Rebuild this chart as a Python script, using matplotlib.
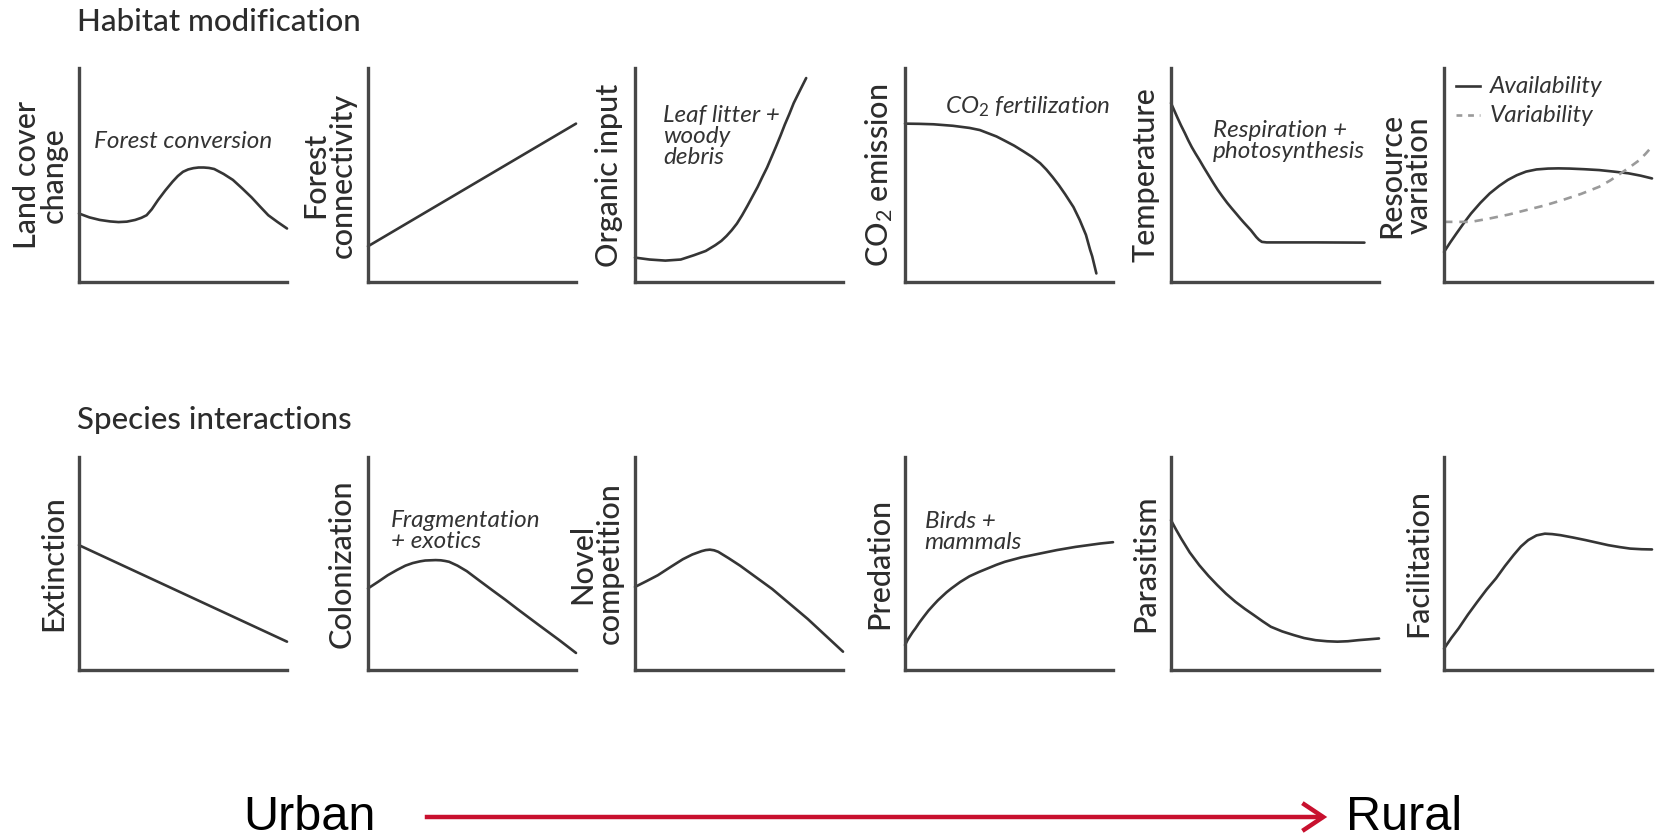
import matplotlib
matplotlib.use("Agg")
import matplotlib.pyplot as plt
from matplotlib.patches import FancyArrowPatch, ArrowStyle

plt.rcParams['font.family'] = ['Lato', 'DejaVu Sans']
plt.rcParams['mathtext.fontset'] = 'custom'
plt.rcParams['mathtext.rm'] = 'Lato'
plt.rcParams['mathtext.it'] = 'Lato:italic'
plt.rcParams['mathtext.bf'] = 'Lato:bold'

# ---------------- data (axes 0..10) ----------------
section_titles = ["Habitat modification", "Species interactions"]

row1_labels = ["Land cover\nchange", "Forest\nconnectivity", "Organic input",
               "CO$_2$ emission", "Temperature", "Resource\nvariation"]
row2_labels = ["Extinction", "Colonization", "Novel\ncompetition",
               "Predation", "Parasitism", "Facilitation"]

land_cover_x = [0, 0.5, 1.0, 1.5, 1.9, 2.3, 2.7, 3.0, 3.25, 3.5, 3.8, 4.15, 4.5, 4.75,
                5.0, 5.25, 5.5, 5.75, 6.0, 6.25, 6.5, 6.95, 7.4, 7.85, 8.3, 8.7, 9.1, 9.55, 10]
land_cover_y = [3.2, 3.02, 2.9, 2.83, 2.8, 2.82, 2.9, 3.0, 3.12, 3.4, 3.83, 4.28, 4.69, 4.95,
                5.15, 5.26, 5.32, 5.35, 5.35, 5.33, 5.28, 5.05, 4.77, 4.37, 3.95, 3.53, 3.12, 2.8, 2.5]

connectivity_x = [0, 10]
connectivity_y = [1.67, 7.4]

organic_x = [0, 0.7, 1.46, 2.2, 2.83, 3.4, 3.86, 4.15, 4.4, 4.65, 4.9, 5.15, 5.4, 5.65, 5.9,
             6.12, 6.35, 6.57, 6.78, 7.0, 7.2, 7.42, 7.63, 7.93, 8.23]
organic_y = [1.14, 1.05, 1.0, 1.05, 1.25, 1.45, 1.72, 1.92, 2.15, 2.42, 2.73, 3.12, 3.55, 4.0, 4.45,
             4.9, 5.35, 5.85, 6.33, 6.85, 7.35, 7.85, 8.36, 8.95, 9.53]

co2_x = [0, 0.7, 1.37, 2.3, 3.1, 3.6, 4.0, 4.4, 4.8, 5.25, 5.7, 6.1, 6.5, 6.8, 7.1, 7.4, 7.7,
         7.9, 8.1, 8.25, 8.4, 8.55, 8.7, 8.8, 8.9, 9.0, 9.1, 9.2]
co2_y = [7.4, 7.39, 7.37, 7.3, 7.2, 7.1, 6.95, 6.8, 6.6, 6.37, 6.1, 5.85, 5.55, 5.25, 4.9, 4.52, 4.1,
         3.8, 3.5, 3.2, 2.9, 2.55, 2.2, 1.85, 1.5, 1.2, 0.8, 0.4]

temperature_x = [0, 0.15, 0.3, 0.48, 0.67, 0.83, 1.0, 1.18, 1.37, 1.58, 1.8, 2.02, 2.25, 2.47,
                 2.7, 2.92, 3.13, 3.32, 3.5, 3.67, 3.84, 3.97, 4.1, 4.23, 4.37, 4.6, 5.5, 7.0, 9.3]
temperature_y = [8.36, 8.03, 7.7, 7.32, 6.95, 6.62, 6.3, 6.0, 5.7, 5.35, 5.0, 4.65, 4.3, 4.0,
                 3.7, 3.44, 3.2, 2.98, 2.78, 2.6, 2.42, 2.26, 2.1, 1.97, 1.875, 1.85, 1.85, 1.85, 1.84]

availability_x = [0, 0.3, 0.6, 0.95, 1.3, 1.75, 2.2, 2.65, 3.07, 3.5, 3.95, 4.45, 5.0, 5.5,
                  6.05, 6.75, 7.46, 8.15, 8.86, 9.45, 10]
availability_y = [1.4, 1.85, 2.27, 2.75, 3.2, 3.7, 4.14, 4.49, 4.77, 4.99, 5.16, 5.26, 5.3, 5.31,
                  5.3, 5.27, 5.23, 5.16, 5.08, 4.97, 4.84]
variability_x = [0, 1.3, 2.2, 3.1, 3.95, 4.85, 5.7, 6.6, 7.46, 8.0, 8.5, 8.95, 9.4, 9.7, 10]
variability_y = [2.81, 2.81, 2.97, 3.15, 3.36, 3.58, 3.83, 4.12, 4.45, 4.75, 5.08, 5.38, 5.7, 6.0, 6.33]

extinction_x = [0, 10]
extinction_y = [5.86, 1.33]

colonization_x = [0, 0.5, 0.95, 1.4, 1.8, 2.15, 2.5, 2.75, 3.0, 3.25, 3.5, 3.7, 3.9, 4.3, 4.75,
                  5.35, 5.97, 6.6, 7.2, 8.2, 9.2, 10]
colonization_y = [3.83, 4.15, 4.45, 4.7, 4.9, 5.02, 5.1, 5.14, 5.15, 5.16, 5.15, 5.12, 5.08, 4.9, 4.64,
                  4.2, 3.75, 3.3, 2.85, 2.12, 1.4, 0.8]

competition_x = [0, 0.55, 1.1, 1.7, 2.3, 2.75, 3.2, 3.4, 3.6, 3.8, 4.0, 4.5, 5.05, 6.6, 8.3, 10]
competition_y = [3.9, 4.17, 4.45, 4.83, 5.2, 5.42, 5.58, 5.63, 5.65, 5.62, 5.55, 5.25, 4.9, 3.8, 2.4, 0.86]

predation_x = [0, 0.12, 0.25, 0.37, 0.5, 0.7, 0.9, 1.13, 1.37, 1.58, 1.8, 2.0, 2.23, 2.65, 3.1,
               3.55, 4.0, 4.4, 4.8, 5.6, 6.5, 7.3, 8.2, 8.8, 9.4, 10]
predation_y = [1.17, 1.4, 1.6, 1.78, 1.95, 2.24, 2.5, 2.79, 3.05, 3.27, 3.47, 3.65, 3.83, 4.13, 4.4,
               4.6, 4.78, 4.94, 5.08, 5.29, 5.47, 5.63, 5.78, 5.86, 5.94, 6.0]

parasitism_x = [0, 0.25, 0.49, 0.9, 1.36, 1.8, 2.23, 2.65, 3.1, 3.55, 3.98, 4.4, 4.8, 5.35, 5.9,
                6.4, 6.95, 7.5, 8.0, 8.5, 9.0, 9.5, 10]
parasitism_y = [7.03, 6.58, 6.17, 5.52, 4.92, 4.42, 3.98, 3.58, 3.2, 2.87, 2.58, 2.29, 2.03, 1.81, 1.64,
                1.5, 1.4, 1.35, 1.33, 1.35, 1.4, 1.44, 1.48]

facilitation_x = [0, 0.35, 0.7, 1.15, 1.6, 2.05, 2.5, 2.93, 3.35, 3.7, 4.05, 4.45, 4.85, 5.2, 5.6,
                  6.2, 6.8, 7.35, 7.9, 8.45, 8.95, 9.5, 10]
facilitation_y = [1.0, 1.5, 1.95, 2.6, 3.2, 3.78, 4.3, 4.88, 5.4, 5.8, 6.1, 6.32, 6.4, 6.38, 6.33,
                  6.22, 6.1, 5.98, 5.86, 5.77, 5.7, 5.67, 5.66]

legend_labels = ["Availability", "Variability"]
axis_ends = ["Urban", "Rural"]

# ---------------- layout ----------------
W, H = 1663, 840
fig = plt.figure(figsize=(W / 100, H / 100), dpi=100)

LEFTS = [79, 368, 635, 905, 1171, 1444]
PW = 208
ROWS = [(68, 282), (457, 670)]
AX_COL = '#474747'
LINE_COL = '#353535'
TXT_COL = '#2c2c2c'
ANN_COL = '#333333'


def fx(px):
    return px / W


def fy(py):
    return 1 - py / H


def make_ax(col, row):
    left = LEFTS[col]
    top, bottom = ROWS[row]
    ax = fig.add_axes([fx(left), fy(bottom), PW / W, (bottom - top) / H])
    ax.set_xlim(0, 10)
    ax.set_ylim(0, 10)
    ax.set_xticks([])
    ax.set_yticks([])
    for s in ['top', 'right']:
        ax.spines[s].set_visible(False)
    for s in ['left', 'bottom']:
        ax.spines[s].set_color(AX_COL)
        ax.spines[s].set_linewidth(2.4)
        ax.spines[s].set_capstyle('projecting')
    ax.patch.set_alpha(0)
    return ax


def ylabel(col, row, text):
    top, bottom = ROWS[row]
    two = '\n' in text
    off = 39 if two else 26
    fig.text(fx(LEFTS[col] - off), fy((top + bottom) / 2), text, rotation=90,
             ha='center', va='center', fontsize=22, color=TXT_COL,
             fontweight='medium', linespacing=0.95, multialignment='center')


def curve(ax, xs, ys, **kw):
    style = dict(color=LINE_COL, lw=1.9, solid_joinstyle='round',
                 solid_capstyle='round', clip_on=False)
    style.update(kw)
    ax.plot(xs, ys, **style)


def note(ax, x, y, text):
    ax.text(x, y, text, ha='left', va='center', fontsize=17.5, style='italic',
            color=ANN_COL, linespacing=1.0)


# titles
fig.text(fx(77), fy(22), section_titles[0], ha='left', va='center',
         fontsize=22.5, color=TXT_COL, fontweight='medium')
fig.text(fx(77), fy(420), section_titles[1], ha='left', va='center',
         fontsize=22.5, color=TXT_COL, fontweight='medium')

# ---- row 1 ----
axs1 = [make_ax(i, 0) for i in range(6)]
for i, lab in enumerate(row1_labels):
    ylabel(i, 0, lab)

curve(axs1[0], land_cover_x, land_cover_y)
note(axs1[0], 0.74, 6.56, "Forest conversion")

curve(axs1[1], connectivity_x, connectivity_y)

curve(axs1[2], organic_x, organic_y)
note(axs1[2], 1.37, 6.8, "Leaf litter +\nwoody\ndebris")

curve(axs1[3], co2_x, co2_y)
note(axs1[3], 1.9, 8.2, "CO$_\\mathit{2}$ fertilization")

curve(axs1[4], temperature_x, temperature_y)
note(axs1[4], 2.0, 6.6, "Respiration +\nphotosynthesis")

curve(axs1[5], availability_x, availability_y)
curve(axs1[5], variability_x, variability_y, color='#9a9a9a', lw=1.9,
      linestyle=(0, (3.2, 2.6)), dash_capstyle='butt')
axs1[5].plot([0.6, 1.75], [9.14, 9.14], color=LINE_COL, lw=1.9)
axs1[5].plot([0.6, 1.75], [7.8, 7.8], color='#9a9a9a', lw=1.9,
             linestyle=(0, (2.2, 2.2)))
note(axs1[5], 2.2, 9.14, legend_labels[0])
note(axs1[5], 2.2, 7.8, legend_labels[1])

# ---- row 2 ----
axs2 = [make_ax(i, 1) for i in range(6)]
for i, lab in enumerate(row2_labels):
    ylabel(i, 1, lab)

curve(axs2[0], extinction_x, extinction_y)
curve(axs2[1], colonization_x, colonization_y)
note(axs2[1], 1.09, 6.54, "Fragmentation\n+ exotics")
curve(axs2[2], competition_x, competition_y)
curve(axs2[3], predation_x, predation_y)
note(axs2[3], 0.95, 6.5, "Birds +\nmammals")
curve(axs2[4], parasitism_x, parasitism_y)
curve(axs2[5], facilitation_x, facilitation_y)

# ---- urban -> rural arrow ----
fig.text(fx(243), fy(817), axis_ends[0], ha='left', va='center',
         fontsize=35, family=['Liberation Sans', 'DejaVu Sans'], color='black')
fig.text(fx(1346), fy(817), axis_ends[1], ha='left', va='center',
         fontsize=35, family=['Liberation Sans', 'DejaVu Sans'], color='black')
arrow = FancyArrowPatch((fx(422), fy(817)), (fx(1330), fy(817)),
                        transform=fig.transFigure,
                        arrowstyle=ArrowStyle('->', head_length=0.75, head_width=0.5),
                        mutation_scale=20, color='#C8102E', lw=3.2,
                        capstyle='butt', joinstyle='miter')
fig.add_artist(arrow)

fig.savefig("out.png", dpi=100, facecolor='white')
